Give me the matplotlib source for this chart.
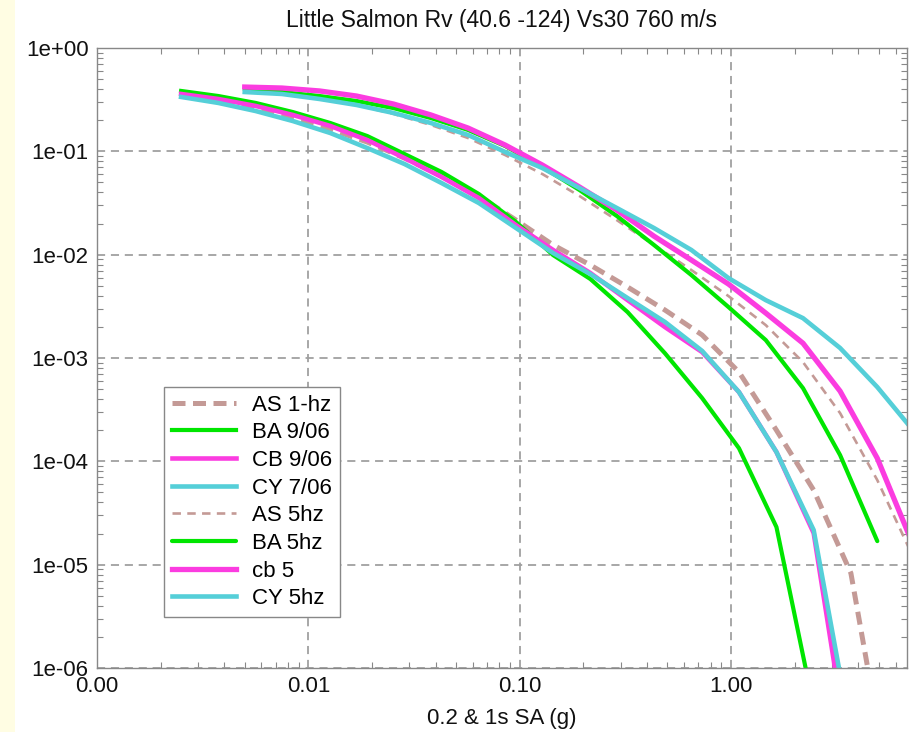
# ================================
# Hazard curves - Little Salmon Rv
# ================================

import matplotlib
matplotlib.use("Agg")
import matplotlib.pyplot as plt
from matplotlib.patches import Rectangle
from matplotlib.ticker import FixedLocator, FixedFormatter, LogLocator

plt.rcParams["font.family"] = ["Liberation Sans", "DejaVu Sans"]

# ----------------
# STEP 1: data
# ----------------
# spectral acceleration levels (g)
sa_1hz = [0.0025, 0.00375, 0.00563, 0.00844, 0.0127, 0.019, 0.0285, 0.0427, 0.0641, 0.0961,
          0.144, 0.216, 0.324, 0.487, 0.73, 1.09, 1.64, 2.46, 3.69, 5.54]
sa_5hz = [0.005, 0.0075, 0.0113, 0.0169, 0.0253, 0.038, 0.057, 0.0854, 0.128, 0.192,
          0.288, 0.432, 0.649, 0.973, 1.46, 2.19, 3.28, 4.92, 7.38]

# annual exceedance rates, 1 hz
as_1hz = [0.359, 0.314, 0.262, 0.210, 0.164, 0.123, 0.0861, 0.0577, 0.0369, 0.0216,
          0.0124, 0.00793, 0.00486, 0.00291, 0.00167, 0.000731, 0.0002, 5.26e-5, 8.28e-6, 7.7e-8]
ba_1hz = [0.384, 0.343, 0.294, 0.240, 0.188, 0.1406, 0.0942, 0.0631, 0.0386, 0.0207,
          0.0099, 0.00581, 0.00278, 0.00111, 0.000409, 0.000134, 2.31e-5, 4.2e-7]
cb_1hz = [0.359, 0.321, 0.275, 0.225, 0.176, 0.1286, 0.0861, 0.0564, 0.0353, 0.0193,
          0.0111, 0.00664, 0.00363, 0.00199, 0.00114, 0.000468, 0.000123, 2.02e-5, 1.05e-7]
cy_1hz = [0.336, 0.294, 0.2455, 0.1965, 0.1504, 0.1076, 0.0754, 0.0493, 0.0316, 0.0181,
          0.01036, 0.00649, 0.0038, 0.00223, 0.00117, 0.000468, 0.000123, 2.16e-5, 2.34e-7]

# annual exceedance rates, 5 hz
as_5hz = [0.392, 0.367, 0.328, 0.281, 0.230, 0.180, 0.1345, 0.092, 0.0603, 0.0369,
          0.0216, 0.0124, 0.0071, 0.00397, 0.00208, 0.000912, 0.000293, 6.58e-5, 1.11e-5]
ba_5hz = [0.392, 0.375, 0.343, 0.307, 0.262, 0.210, 0.161, 0.1125, 0.0705, 0.0422,
          0.0237, 0.0124, 0.00635, 0.00311, 0.00149, 0.000511, 0.000115, 1.69e-5]
cb_5hz = [0.419, 0.410, 0.384, 0.343, 0.287, 0.225, 0.168, 0.115, 0.0737, 0.0451,
          0.0270, 0.0151, 0.00887, 0.00519, 0.00272, 0.00139, 0.000478, 0.000107, 1.44e-5]
cy_5hz = [0.375, 0.359, 0.321, 0.281, 0.235, 0.188, 0.144, 0.0985, 0.0689, 0.0441,
          0.0283, 0.0181, 0.0111, 0.00593, 0.00363, 0.00243, 0.00125, 0.000523, 0.000192]

x_ticks = [0.001, 0.01, 0.1, 1.0]
x_tick_labels = ["0.00", "0.01", "0.10", "1.00"]
y_ticks = [1e-6, 1e-5, 1e-4, 1e-3, 1e-2, 1e-1, 1e0]
y_tick_labels = ["1e-06", "1e-05", "1e-04", "1e-03", "1e-02", "1e-01", "1e+00"]

# ----------------
# STEP 2: plot
# ----------------
green = "#00e600"
magenta = "#fb3ce0"
cyan = "#55cfd8"
rose = "#c49a96"
text_col = "#111111"

fig = plt.figure(figsize=(9.09, 7.32), dpi=100)
fig.patch.set_facecolor("white")
fig.patches.append(Rectangle((0, 0), 15 / 909, 1, transform=fig.transFigure,
                             facecolor="#fffde3", edgecolor="none", zorder=0))

ax = fig.add_axes([97 / 909, 64 / 732, 810 / 909, 620 / 732])
ax.set_xscale("log")
ax.set_yscale("log")

ax.plot(sa_1hz[:len(as_1hz)], as_1hz, color=rose, lw=3.6, ls=(0, (2.6, 1.5)), label="AS 1-hz")
ax.plot(sa_1hz[:len(ba_1hz)], ba_1hz, color=green, lw=3.0, label="BA 9/06")
ax.plot(sa_1hz[:len(cb_1hz)], cb_1hz, color=magenta, lw=3.3, label="CB 9/06")
ax.plot(sa_1hz[:len(cy_1hz)], cy_1hz, color=cyan, lw=3.3, label="CY 7/06")
ax.plot(sa_5hz[:len(as_5hz)], as_5hz, color=rose, lw=1.9, ls=(0, (3.2, 2.4)), label="AS 5hz")
ax.plot(sa_5hz[:len(ba_5hz)], ba_5hz, color=green, lw=3.0, label="BA 5hz", solid_capstyle="round")
ax.plot(sa_5hz[:len(cb_5hz)], cb_5hz, color=magenta, lw=3.8, label="cb 5")
ax.plot(sa_5hz[:len(cy_5hz)], cy_5hz, color=cyan, lw=3.3, label="CY 5hz")

ax.set_xlim(0.001, 6.8)
ax.set_ylim(1e-6, 1.0)

ax.xaxis.set_major_locator(FixedLocator(x_ticks))
ax.xaxis.set_major_formatter(FixedFormatter(x_tick_labels))
ax.yaxis.set_major_locator(FixedLocator(y_ticks))
ax.yaxis.set_major_formatter(FixedFormatter(y_tick_labels))
ax.xaxis.set_minor_locator(LogLocator(base=10, subs=range(2, 10), numticks=20))
ax.yaxis.set_minor_locator(LogLocator(base=10, subs=range(2, 10), numticks=20))
ax.xaxis.set_minor_formatter(FixedFormatter([]))
ax.yaxis.set_minor_formatter(FixedFormatter([]))

ax.tick_params(which="both", direction="in", top=True, right=True, color="#888888",
               labelsize=16, labelcolor=text_col)
ax.tick_params(which="major", length=0, pad=6)
ax.tick_params(which="minor", length=4, width=0.8)

ax.grid(True, which="major", color="#a0a0a0", lw=1.3, ls=(0, (4.5, 3.2)))
for s in ax.spines.values():
    s.set_color("#888888")
    s.set_linewidth(1.0)

ax.set_title("Little Salmon Rv (40.6 -124) Vs30 760 m/s", fontsize=16.5, pad=15, color=text_col)
ax.set_xlabel("0.2 & 1s SA (g)", fontsize=16, labelpad=8, color=text_col)

leg = ax.legend(loc="lower left", bbox_to_anchor=(0.0827, 0.0823), borderaxespad=0,
                fontsize=16, frameon=True, fancybox=False, framealpha=1,
                handlelength=2.9, labelspacing=0.3, borderpad=0.35, handletextpad=0.7)
leg.get_frame().set_edgecolor("#888888")
leg.get_frame().set_linewidth(1.0)

plt.savefig("out.png", dpi=100, facecolor=fig.get_facecolor())
